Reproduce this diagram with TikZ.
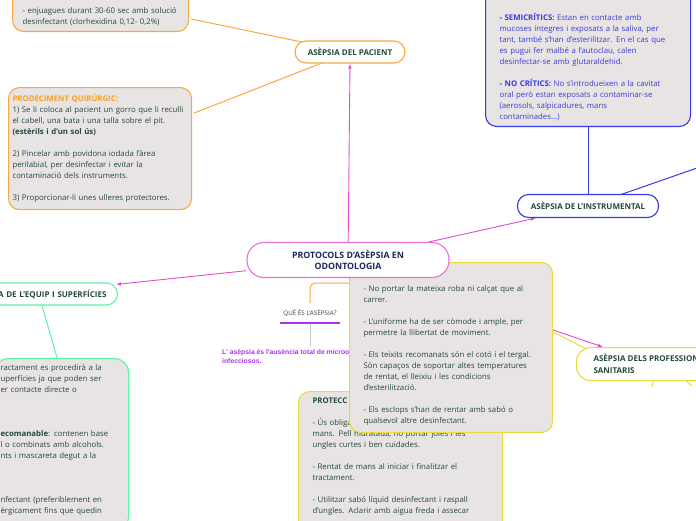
\documentclass[tikz,border=0pt]{standalone}
\usepackage{fontspec}
\setmainfont{Open Sans}
\newfontfamily\arialfont{Liberation Sans}
\usetikzlibrary{arrows.meta, positioning, calc, backgrounds}
\definecolor{boxgray}{HTML}{E8E4E4}
\definecolor{txtgreen}{HTML}{23493D}
\definecolor{txtnavy}{HTML}{1B2A5C}
\definecolor{orangeC}{HTML}{F5AB3F}
\definecolor{orangeT}{HTML}{F5A020}
\definecolor{blueC}{HTML}{3838E8}
\definecolor{blueT}{HTML}{3C3CD4}
\definecolor{magC}{HTML}{E34BD0}
\definecolor{greenC}{HTML}{5DF2A6}
\definecolor{yellowC}{HTML}{E9DB3A}
\definecolor{purpleC}{HTML}{A535F0}
\definecolor{grayline}{HTML}{C8C8C8}
\tikzset{
    notebox/.style={
        rectangle, rounded corners=11pt, fill=boxgray, line width=1.1pt,
        align=left, text=txtgreen, inner xsep=14pt, inner ysep=6pt,
        font=\fontsize{7.8}{11}\selectfont
    },
    topic/.style={
        rectangle, rounded corners=11pt, fill=white, line width=1.1pt,
        align=center, text=txtgreen, font=\fontsize{8}{12}\selectfont\bfseries
    },
    link/.style={line width=1pt},
    arrow_mag/.style={
        line width=0.9pt, draw=magC, -{Latex[length=5pt, width=3.6pt]}
    }
}
\begin{document}
\begin{tikzpicture}[x=1pt, y=-1pt]
    \useasboundingbox (0,0) rectangle (696,520);
    \clip (0,0) rectangle (696,520);

    % cajas bajo el nodo central
    \node[notebox, draw=yellowC, anchor=north west, text width=176pt] (prot) at (298,391) {%
        \textbf{PROTECC}\\
        \mbox{}\\
        - Ús obliga\\
        mans. Pell hidratada, no portar joies i les\\
        ungles curtes i ben cuidades.\\
        \mbox{}\\
        - Rentat de mans al iniciar i finalitzar el\\
        tractament.\\
        \mbox{}\\
        - Utilitzar sabó líquid desinfectant i raspall\\
        d'ungles. Aclarir amb aigua freda i assecar\\
        \mbox{}\\
        \mbox{}};
    \node[anchor=north west, inner sep=0pt, align=left, text=purpleC,
          font=\arialfont\fontsize{6.8}{9}\selectfont\bfseries] (defi) at (222,349)
        {L' asèpsia és l'ausència total de microorganismes\\infecciosos.};
    \node[minimum height=20pt, inner xsep=3pt, text=black!75,
          font=\fontsize{6.3}{7}\selectfont] (que) at (310,313) {QUÈ ÉS L'ASÈPSIA?};
    \draw[purpleC, line width=1.8pt] (que.south west) -- (que.south east);
    \node[notebox, draw=yellowC, anchor=north west, text width=175pt, inner ysep=7pt] (roba) at (349,262) {%
        \mbox{}\\
        \mbox{}\\
        - No portar la mateixa roba ni calçat que al\\
        carrer.\\
        \mbox{}\\
        - L'uniforme ha de ser còmode i ample, per\\
        permetre la llibertat de moviment.\\
        \mbox{}\\
        - Els teixits recomanats són el cotó i el tergal.\\
        Són capaços de soportar altes temperatures\\
        de rentat, el lleixiu i les condicions\\
        d'esterilització.\\
        \mbox{}\\
        - Els esclops s'han de rentar amb sabó o\\
        qualsevol altre desinfectant.};
    \node[topic, draw=magC!80, rounded corners=17pt, minimum width=202pt, minimum height=35pt,
          text=txtnavy, font=\fontsize{8.8}{11}\selectfont\bfseries] (central) at (348,260)
        {PROTOCOLS D'ASÈPSIA EN\\ODONTOLOGIA};

    % pacient
    \node[topic, draw=orangeC, minimum width=110pt, minimum height=22pt] (pac) at (350,52) {ASÈPSIA DEL PACIENT};
    \node[notebox, draw=orangeC, anchor=south west, text width=156pt, inner xsep=10pt] (enjua) at (12,32) {%
        \mbox{}\\[20pt]
        - enjuagues durant 30-60 sec amb solució\\
        desinfectant (clorhexidina 0,12- 0,2\%)};
    \node[notebox, draw=orangeC, anchor=north west, text width=175pt, inner xsep=4pt, inner ysep=7pt] (quir) at (8,87) {%
        \textcolor{orangeT}{\textbf{PRODECIMENT QUIRÚRGIC:}}\\
        1) Se li coloca al pacient un gorro que li reculli\\
        el cabell, una bata i una talla sobre el pit.\\
        \textbf{(estèrils i d'un sol ús)}\\
        \mbox{}\\
        2) Pincelar amb povidona iodada l'àrea\\
        perilabial, per desinfectar i evitar la\\
        contaminació dels instruments.\\
        \mbox{}\\
        3) Proporcionar-li unes ulleres protectores.};

    % instrumental
    \node[notebox, draw=blueC, anchor=south west, text width=177pt, text=blueT] (critic) at (485,127) {%
        \mbox{}\\[20pt]
        \textcolor{blueC}{\textbf{- SEMICRÍTICS:}} Estan en contacte amb\\
        mucoses íntegres i exposats a la saliva, per\\
        tant, també s'han d'esterilitzar. En el cas que\\
        es pugui fer malbé a l'autoclau, calen\\
        desinfectar-se amb glutaraldehid.\\
        \mbox{}\\
        \textcolor{blueC}{\textbf{- NO CRÍTICS:}} No s'introdueixen a la cavitat\\
        oral però estan exposats a contaminar-se\\
        (aerosols, salpicadures, mans\\
        contaminades...)};
    \node[topic, draw=blueC, minimum width=141pt, minimum height=23pt] (instr) at (588,206) {ASÈPSIA DE L'INSTRUMENTAL};
    \coordinate (instrnext) at (720,160);

    % equip i superficies
    \node[topic, draw=greenC, anchor=east, text width=110pt, align=right, inner xsep=11pt,
          minimum height=22pt] (equip) at (118,294) {A DE L'EQUIP I SUPERFÍCIES};
    \node[notebox, draw=greenC, anchor=north west, text width=122pt, inner xsep=6pt, inner ysep=6pt,
          rounded corners=14pt] (neteja) at (-6,358) {%
        ractament es procedirà a la\\
        uperfícies ja que poden ser\\
        er contacte directe o\\
        \mbox{}\\
        \mbox{}\\
        \mbox{}\\
        \textbf{ecomanable}: contenen base\\
        l o combinats amb alcohols.\\
        nts i mascareta degut a la\\
        \mbox{}\\
        \mbox{}\\
        \mbox{}\\
        nfectant (preferiblement en\\
        èrgicament fins que quedin\\
        \mbox{}};

    % professionals
    \node[topic, draw=yellowC, anchor=north west, align=left, inner xsep=17pt, rounded corners=14pt,
          minimum height=33pt, font=\fontsize{8}{12}\selectfont\bfseries] (prof) at (576,347)
        {ASÈPSIA DELS PROFESSIONALS\\SANITARIS};
    \coordinate (qstart) at (362,283);

    \begin{scope}[on background layer]
        \draw[link, orangeC] (pac.center) -- ($(enjua.south east)+(2,-13)$);
        \draw[link, orangeC] (pac.center) -- ($(quir.north east)+(2,26)$);
        \draw[link, blueC] (instr.north) -- (instr.north |- critic.south);
        \draw[link, blueC] (instr.center) -- (instrnext);
        \draw[link, greenC] ($(equip.south east)+(-76,0)$) -- ($(neteja.north east)+(-72,0)$);
        \draw[link, orangeC, rounded corners=6pt] (qstart) -| (que.north);
        \draw[link, grayline] (que.south) -- ($(que.south |- defi.north)+(0,-2)$);
        \draw[link, yellowC] ($(roba.north east)+(0,70)$) -- ($(prof.north west)+(24,9)$);
        \draw[link, yellowC] ($(prof.south west)+(81,-3)$) to[bend right=25] ($(prof.south west)+(76,6)$);
        \draw[link, yellowC] ($(prof.south west)+(107,-3)$) -- ($(prof.south west)+(116,5)$);
        \draw[arrow_mag] (central) -- (pac.south);
        \draw[arrow_mag] (central) -- ($(instr.south west)+(19,0)$);
        \draw[arrow_mag] (central) -- ($(equip.north east)+(-2,2)$);
        \draw[arrow_mag] (central) -- ($(prof.north west)+(27,0)$);
    \end{scope}
\end{tikzpicture}
\end{document}
